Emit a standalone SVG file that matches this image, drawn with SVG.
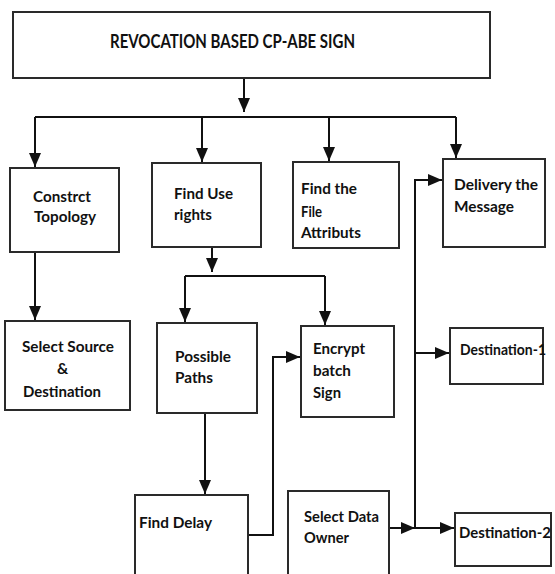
<svg xmlns="http://www.w3.org/2000/svg" width="555" height="574" viewBox="0 0 555 574">
<style>
.box{fill:#fff;stroke:#2a2a2a;stroke-width:2}
.t{font-family:Lato,"Open Sans",sans-serif;font-weight:bold;font-size:15.5px;fill:#111}
.title{font-size:18px}
.c{fill:none;stroke:#111;stroke-width:2}
.a{marker-end:url(#ah)}
</style>
<defs>
<marker id="ah" viewBox="0 0 14 12" refX="14" refY="6" markerWidth="14" markerHeight="12" markerUnits="userSpaceOnUse" orient="auto">
<path d="M0,0 L14,6 L0,12 z" fill="#111"/>
</marker>
</defs>
<rect width="555" height="574" fill="#fff"/>
<g id="connectors">
<path class="c a" d="M244,78 V112"/>
<path class="c" d="M35,117 H456"/>
<path class="c a" d="M35,117 V167"/>
<path class="c a" d="M202,117 V162"/>
<path class="c a" d="M329,117 V161"/>
<path class="c a" d="M456,117 V158"/>
<path class="c a" d="M35,252 V320"/>
<path class="c a" d="M212,247 V272"/>
<path class="c" d="M185,276 H325"/>
<path class="c a" d="M185,276 V322"/>
<path class="c a" d="M325,276 V325"/>
<path class="c a" d="M205,413 V494"/>
<path class="c a" d="M248,535 H273 V357 H300"/>
<path class="c a" d="M415,528 V180 H442"/>
<path class="c a" d="M415,353 H449"/>
<path class="c a" d="M389,528 H415"/>
<path class="c a" d="M415,528 H454"/>
</g>
<g id="n-title">
<rect class="box" x="13" y="12" width="477" height="66"/>
<text class="t title" x="110" y="48" textLength="245" lengthAdjust="spacingAndGlyphs">REVOCATION BASED CP-ABE SIGN</text>
</g>
<g id="n-construct">
<rect class="box" x="10" y="168" width="109" height="84"/>
<text class="t" x="33" y="202" textLength="58" lengthAdjust="spacingAndGlyphs">Constrct</text>
<text class="t" x="34" y="222" textLength="62" lengthAdjust="spacingAndGlyphs">Topology</text>
</g>
<g id="n-select-source">
<rect class="box" x="5" y="321" width="125" height="89"/>
<text class="t" x="22" y="352" textLength="92" lengthAdjust="spacingAndGlyphs">Select Source</text>
<text class="t" x="57" y="374">&amp;</text>
<text class="t" x="23" y="397" textLength="78" lengthAdjust="spacingAndGlyphs">Destination</text>
</g>
<g id="n-find-use">
<rect class="box" x="152" y="163" width="109" height="84"/>
<text class="t" x="174" y="199" textLength="59" lengthAdjust="spacingAndGlyphs">Find Use</text>
<text class="t" x="174" y="220" textLength="38" lengthAdjust="spacingAndGlyphs">rights</text>
</g>
<g id="n-file-attr">
<rect class="box" x="293" y="162" width="106" height="86"/>
<text class="t" x="301" y="194" textLength="56" lengthAdjust="spacingAndGlyphs">Find the</text>
<text class="t" x="301" y="217" textLength="21" lengthAdjust="spacingAndGlyphs">File</text>
<text class="t" x="301" y="238" textLength="60" lengthAdjust="spacingAndGlyphs">Attributs</text>
</g>
<g id="n-delivery">
<rect class="box" x="443" y="159" width="102" height="88"/>
<text class="t" x="454" y="190" textLength="84" lengthAdjust="spacingAndGlyphs">Delivery the</text>
<text class="t" x="454" y="212" textLength="60" lengthAdjust="spacingAndGlyphs">Message</text>
</g>
<g id="n-paths">
<rect class="box" x="157" y="323" width="100" height="90"/>
<text class="t" x="175" y="362" textLength="56" lengthAdjust="spacingAndGlyphs">Possible</text>
<text class="t" x="175" y="383" textLength="38" lengthAdjust="spacingAndGlyphs">Paths</text>
</g>
<g id="n-encrypt">
<rect class="box" x="301" y="326" width="93" height="91"/>
<text class="t" x="313" y="354" textLength="52" lengthAdjust="spacingAndGlyphs">Encrypt</text>
<text class="t" x="313" y="376" textLength="38" lengthAdjust="spacingAndGlyphs">batch</text>
<text class="t" x="313" y="398" textLength="28" lengthAdjust="spacingAndGlyphs">Sign</text>
</g>
<g id="n-dest1">
<rect class="box" x="450" y="328" width="93" height="56"/>
<text class="t" x="460" y="355" textLength="86" lengthAdjust="spacingAndGlyphs">Destination-1</text>
</g>
<g id="n-delay">
<rect class="box" x="135" y="495" width="113" height="90"/>
<text class="t" x="139" y="528" textLength="73" lengthAdjust="spacingAndGlyphs">Find Delay</text>
</g>
<g id="n-owner">
<rect class="box" x="288" y="491" width="101" height="90"/>
<text class="t" x="304" y="522" textLength="75" lengthAdjust="spacingAndGlyphs">Select Data</text>
<text class="t" x="304" y="543" textLength="45" lengthAdjust="spacingAndGlyphs">Owner</text>
</g>
<g id="n-dest2">
<rect class="box" x="455" y="513" width="96" height="53"/>
<text class="t" x="459" y="538" textLength="92" lengthAdjust="spacingAndGlyphs">Destination-2</text>
</g>
</svg>
